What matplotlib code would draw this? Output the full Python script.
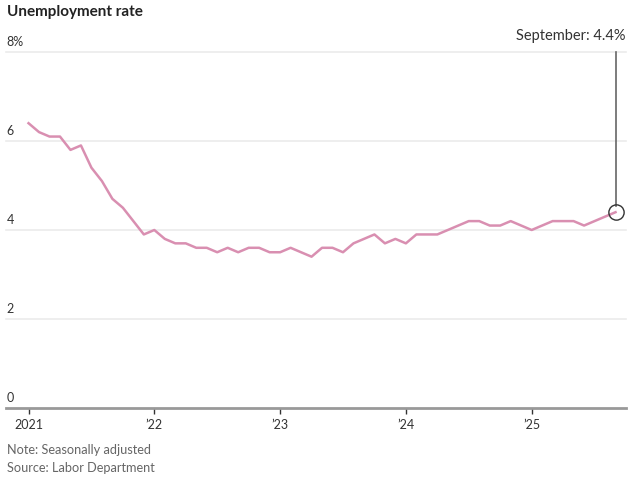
import matplotlib
matplotlib.use("Agg")
import matplotlib.pyplot as plt
import numpy as np

# Tasa de desempleo mensual, ene 2021 - sep 2025
tasa_2021 = [6.4, 6.2, 6.1, 6.1, 5.8, 5.9, 5.4, 5.1, 4.7, 4.5, 4.2, 3.9]
tasa_2022 = [4.0, 3.8, 3.7, 3.7, 3.6, 3.6, 3.5, 3.6, 3.5, 3.6, 3.6, 3.5]
tasa_2023 = [3.5, 3.6, 3.5, 3.4, 3.6, 3.6, 3.5, 3.7, 3.8, 3.9, 3.7, 3.8]
tasa_2024 = [3.7, 3.9, 3.9, 3.9, 4.0, 4.1, 4.2, 4.2, 4.1, 4.1, 4.2, 4.1]
tasa_2025 = [4.0, 4.1, 4.2, 4.2, 4.2, 4.1, 4.2, 4.3, 4.4]
etiquetas_x = ["2021", "\u201922", "\u201923", "\u201924", "\u201925"]
etiquetas_y = ["0", "2", "4", "6", "8%"]

tasa = tasa_2021 + tasa_2022 + tasa_2023 + tasa_2024 + tasa_2025
meses = np.arange(len(tasa))

plt.rcParams['font.family'] = ['Lato', 'DejaVu Sans']

fig = plt.figure(figsize=(6.4, 4.83), dpi=100)
ax = fig.add_axes([6 / 640, 75 / 483, 620 / 640, 356 / 483])

for v in [2, 4, 6, 8]:
    ax.axhline(v, color='#ebebeb', lw=1.2, zorder=1, clip_on=False)
ax.axhline(0, color='#999999', lw=2, zorder=3, clip_on=False)

ax.plot(meses, tasa, color='#d98fb1', lw=1.8, zorder=4)

# anotación del último dato
ax.plot([meses[-1], meses[-1]], [tasa[-1] + 0.15, 8.0], color='#666666', lw=1.2, zorder=5, clip_on=False)
ax.plot(meses[-1], tasa[-1], 'o', ms=11, mfc='none', mec='#333333', mew=1.0, zorder=6)
ax.text(57.0, 8.35, "September: 4.4%", ha='right', va='center', fontsize=10.5, color='#333333')

ax.set_xlim(-2.15, 57.0)
ax.set_ylim(0, 8)
for s in ax.spines.values():
    s.set_visible(False)
ax.set_yticks([])
ax.set_xticks([0, 12, 24, 36, 48])
ax.set_xticklabels(etiquetas_x, fontsize=9, color='#333333')
ax.tick_params(axis='x', length=4, width=1, color='#333333', pad=4)

for i, lab in enumerate(etiquetas_y):
    ax.text(-2.1, i * 2 + 0.08, lab, ha='left', va='bottom', fontsize=9, color='#333333')

fig.text(7 / 640, 1 - 12 / 483, "Unemployment rate", ha='left', va='center',
         fontsize=11, fontweight='bold', color='#222222')
fig.text(7 / 640, 1 - 450 / 483, "Note: Seasonally adjusted", ha='left', va='center',
         fontsize=9.2, color='#666666')
fig.text(7 / 640, 1 - 468 / 483, "Source: Labor Department", ha='left', va='center',
         fontsize=9.2, color='#666666')

fig.savefig("out.png", dpi=100)
plt.close(fig)
